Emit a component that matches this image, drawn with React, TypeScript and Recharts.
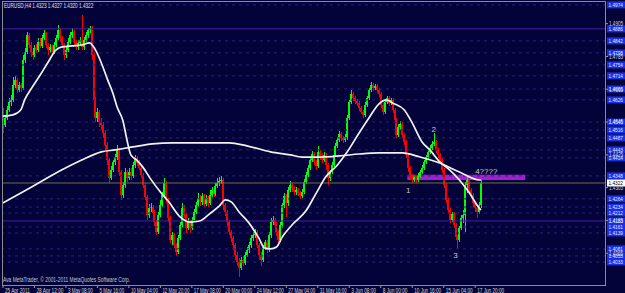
import React from "react";
import {
  ComposedChart,
  Bar,
  Line,
  XAxis,
  YAxis,
  ReferenceLine,
  ReferenceArea,
  ReferenceDot,
} from "recharts";

const symbolTitle = "EURUSD,H4  1.4323 1.4327 1.4320 1.4322";
const copyright = "Ava MetaTrader, © 2001-2011 MetaQuotes Software Corp.";

// H4 bars, prices in pips (1e-4). Open of each bar = previous close.
const firstOpen = 14582;
const closes = [
  14535, 14560, 14589, 14619, 14626, 14681, 14699, 14663, 14681, 14670,
  14772, 14802, 14864, 14827, 14802, 14791, 14816, 14809, 14838, 14824,
  14853, 14871, 14827, 14809, 14820, 14802, 14827, 14853, 14882, 14853,
  14827, 14791, 14809, 14838, 14864, 14875, 14838, 14820, 14835, 14846,
  14820, 14846, 14864, 14882, 14890, 14791, 14626, 14560, 14582, 14545,
  14535, 14505, 14461, 14406, 14341, 14370, 14399, 14417, 14443, 14362,
  14278, 14315, 14362, 14341, 14362, 14348, 14388, 14414, 14395, 14377,
  14352, 14315, 14271, 14205, 14231, 14234, 14212, 14179, 14143, 14205,
  14242, 14278, 14322, 14260, 14194, 14114, 14132, 14095, 14070, 14121,
  14169, 14231, 14205, 14158, 14179, 14158, 14187, 14216, 14242, 14267,
  14253, 14275, 14245, 14267, 14249, 14278, 14297, 14282, 14311, 14322,
  14330, 14333, 14242, 14216, 14179, 14143, 14121, 14095, 14059, 14033,
  14011, 14040, 14029, 14059, 14077, 14095, 14121, 14132, 14143, 14095,
  14059, 14040, 14088, 14106, 14077, 14132, 14179, 14187, 14169, 14143,
  14114, 14169, 14242, 14275, 14249, 14297, 14315, 14304, 14289, 14297,
  14286, 14275, 14289, 14326, 14352, 14377, 14406, 14428, 14399, 14384,
  14436, 14421, 14406, 14425, 14388, 14341, 14362, 14388, 14425, 14458,
  14480, 14502, 14487, 14480, 14491, 14560, 14619, 14648, 14633, 14622,
  14615, 14597, 14582, 14571, 14608, 14633, 14663, 14681, 14670, 14677,
  14663, 14648, 14608, 14582, 14619, 14633, 14615, 14626, 14589, 14553,
  14498, 14527, 14538, 14498, 14472, 14425, 14377, 14348, 14333, 14344,
  14333, 14348, 14362, 14377, 14399, 14417, 14436, 14450, 14465, 14472,
  14443, 14425, 14406, 14370, 14315, 14260, 14223, 14187, 14209, 14169,
  14125, 14114, 14158, 14194, 14205, 14315, 14333, 14297, 14278, 14249,
  14231, 14216, 14242, 14322,
];
const highs = [
  14597, 14571, 14604, 14633, 14644, 14710, 14714, 14707, 14692, 14688,
  14791, 14816, 14875, 14871, 14838, 14816, 14827, 14831, 14853, 14853,
  14864, 14882, 14875, 14835, 14831, 14827, 14838, 14864, 14900, 14890,
  14860, 14835, 14820, 14853, 14875, 14890, 14882, 14846, 14846, 14857,
  14937, 14857, 14875, 14890, 14897, 14897, 14802, 14637, 14597, 14589,
  14560, 14545, 14516, 14472, 14414, 14384, 14406, 14428, 14461, 14450,
  14370, 14326, 14377, 14370, 14377, 14377, 14399, 14425, 14421, 14406,
  14384, 14359, 14322, 14278, 14245, 14249, 14242, 14223, 14187, 14216,
  14260, 14289, 14341, 14330, 14267, 14201, 14143, 14139, 14103, 14132,
  14179, 14249, 14242, 14212, 14194, 14187, 14198, 14227, 14253, 14286,
  14278, 14286, 14282, 14278, 14275, 14297, 14308, 14304, 14322, 14341,
  14344, 14348, 14341, 14249, 14223, 14187, 14150, 14128, 14103, 14070,
  14048, 14051, 14055, 14070, 14088, 14106, 14132, 14143, 14154, 14150,
  14103, 14070, 14095, 14114, 14114, 14143, 14194, 14201, 14194, 14179,
  14150, 14179, 14249, 14286, 14282, 14308, 14330, 14322, 14311, 14308,
  14304, 14293, 14300, 14337, 14362, 14388, 14417, 14439, 14436, 14406,
  14458, 14443, 14432, 14436, 14432, 14395, 14370, 14399, 14436, 14469,
  14491, 14513, 14509, 14494, 14502, 14571, 14626, 14663, 14655, 14641,
  14630, 14622, 14604, 14589, 14619, 14641, 14670, 14692, 14688, 14685,
  14685, 14670, 14655, 14615, 14630, 14641, 14641, 14633, 14633, 14597,
  14560, 14538, 14549, 14545, 14505, 14480, 14432, 14384, 14355, 14352,
  14352, 14359, 14370, 14388, 14406, 14425, 14447, 14461, 14476, 14505,
  14480, 14450, 14432, 14414, 14377, 14322, 14267, 14231, 14216, 14216,
  14176, 14132, 14165, 14205, 14223, 14326, 14344, 14341, 14304, 14286,
  14256, 14238, 14253, 14333,
];
const lows = [
  14505, 14527, 14553, 14582, 14604, 14619, 14670, 14652, 14655, 14655,
  14663, 14761, 14794, 14816, 14783, 14772, 14783, 14798, 14802, 14816,
  14816, 14846, 14816, 14791, 14798, 14791, 14794, 14820, 14846, 14838,
  14816, 14772, 14780, 14802, 14831, 14853, 14827, 14809, 14809, 14824,
  14809, 14809, 14838, 14853, 14871, 14772, 14615, 14545, 14545, 14527,
  14516, 14487, 14443, 14388, 14322, 14333, 14362, 14388, 14406, 14348,
  14260, 14267, 14304, 14326, 14333, 14333, 14341, 14377, 14384, 14370,
  14341, 14304, 14260, 14187, 14194, 14216, 14198, 14165, 14132, 14136,
  14198, 14234, 14271, 14249, 14179, 14103, 14095, 14084, 14055, 14062,
  14114, 14161, 14194, 14139, 14150, 14139, 14150, 14179, 14209, 14234,
  14238, 14242, 14234, 14238, 14234, 14242, 14271, 14271, 14275, 14304,
  14311, 14319, 14223, 14201, 14165, 14132, 14106, 14077, 14040, 14018,
  13978, 14004, 14018, 14022, 14051, 14066, 14084, 14110, 14121, 14084,
  14040, 14018, 14033, 14077, 14066, 14070, 14121, 14169, 14158, 14128,
  14092, 14106, 14158, 14231, 14198, 14238, 14289, 14289, 14278, 14278,
  14275, 14264, 14267, 14282, 14319, 14344, 14370, 14399, 14388, 14370,
  14377, 14406, 14395, 14399, 14370, 14315, 14330, 14355, 14381, 14417,
  14450, 14472, 14476, 14469, 14472, 14480, 14553, 14611, 14622, 14611,
  14604, 14586, 14575, 14560, 14564, 14600, 14626, 14655, 14659, 14663,
  14652, 14637, 14597, 14571, 14575, 14611, 14604, 14608, 14578, 14542,
  14487, 14491, 14516, 14487, 14461, 14414, 14362, 14333, 14322, 14326,
  14322, 14326, 14341, 14355, 14370, 14392, 14410, 14428, 14443, 14458,
  14432, 14414, 14395, 14359, 14304, 14249, 14212, 14176, 14179, 14158,
  14114, 14084, 14106, 14150, 14176, 14143, 14286, 14286, 14267, 14234,
  14216, 14194, 14209, 14231,
];

// moving averages at some bars
const fastBars = [
  0, 5, 9, 11, 15, 19, 23, 27, 30, 35, 40, 44, 47, 50, 53, 56, 58, 61, 63, 65,
  68, 71, 75, 80, 84, 90, 95, 100, 105, 110, 113, 116, 120, 125, 130, 133, 136,
  139, 142, 147, 154, 159, 164, 170, 175, 181, 186, 191, 195, 198, 204, 208,
  213, 217, 222, 227, 232, 237, 242, 243,
];
const fastVals = [
  14567, 14571, 14589, 14626, 14674, 14718, 14765, 14809, 14820, 14824,
  14827, 14835, 14809, 14761, 14703, 14648, 14600, 14549, 14480, 14425,
  14406, 14381, 14337, 14289, 14256, 14198, 14179, 14183, 14209, 14238,
  14260, 14253, 14216, 14176, 14121, 14084, 14081, 14088, 14125, 14169,
  14220, 14282, 14344, 14388, 14436, 14505, 14560, 14611, 14626, 14615,
  14589, 14542, 14472, 14443, 14399, 14370, 14333, 14286, 14231, 14223,
];
const slowBars = [
  0, 10, 20, 30, 40, 50, 57, 66, 76, 86, 100, 115, 124, 136, 146, 152, 161,
  171, 181, 191, 203, 212, 222, 232, 242, 243,
];
const slowVals = [
  14249, 14289, 14330, 14370, 14406, 14436, 14443, 14454, 14465, 14469,
  14469, 14469, 14458, 14436, 14425, 14417, 14417, 14421, 14428, 14432,
  14432, 14417, 14395, 14362, 14333, 14333,
];

const timeLabels = [
  "25 Apr 2011", "28 Apr 12:00", "3 May 08:00", "5 May 16:00", "10 May 04:00",
  "12 May 20:00", "17 May 08:00", "20 May 00:00", "24 May 12:00", "27 May 04:00",
  "31 May 16:00", "3 Jun 08:00", "8 Jun 00:00", "10 Jun 16:00", "15 Jun 04:00",
  "17 Jun 20:00",
];
const BARS_PER_LABEL = 16;
const priceTicks = [1.3945, 1.4065, 1.4185, 1.4305, 1.4425, 1.4545, 1.4665, 1.4785, 1.4905];

// horizontal levels with their tags on the price scale
const levels = [
  14974, 14886, 14842, 14798, 14754, 14714, 14666, 14626, 14545, 14516, 14487,
  14443, 14414, 14348, 14264, 14234, 14212, 14183, 14161, 14139, 14081, 14055,
  14033,
];
const solidLevels = [14886, 14183];
const bid = 14322;
const zone = { fromBar: 206, toBar: 265, top: 14352, bottom: 14333 };
const marks = [
  { bar: 206, price: 14297, text: "1", anchor: "middle" },
  { bar: 219, price: 14520, text: "2", anchor: "middle" },
  { bar: 230, price: 14059, text: "3", anchor: "middle" },
  { bar: 240, price: 14366, text: "4????", anchor: "start" },
];

const TOTAL_SLOTS = 307;
const BG = "#03033a";
const FONT = "'Liberation Sans', Arial, sans-serif";
const TXT = "#d4d4d4";

const fastMap = new Map(fastBars.map((b, k) => [b, fastVals[k] / 1e4]));
const slowMap = new Map(slowBars.map((b, k) => [b, slowVals[k] / 1e4]));

const rows = Array.from({ length: TOTAL_SLOTS }, (_, i) => {
  if (i >= closes.length) return { i };
  const open = (i === 0 ? firstOpen : closes[i - 1]) / 1e4;
  const close = closes[i] / 1e4;
  return {
    i,
    open,
    close,
    high: Math.max(highs[i] / 1e4, open, close),
    low: Math.min(lows[i] / 1e4, open, close),
    fast: fastMap.get(i),
    slow: slowMap.get(i),
  };
});

function Candle(props: any) {
  const { x, y, width, height, payload } = props;
  if (!payload || payload.open == null) return null;
  const { open, close, high, low } = payload;
  const top = Math.min(y, y + height);
  const bot = Math.max(y, y + height);
  const k = high > low ? (bot - top) / (high - low) : 0;
  const yO = top + (high - open) * k;
  const yC = top + (high - close) * k;
  const color = close >= open ? "#00ff00" : "#ff0000";
  const left = Math.round(x);
  const w = Math.max(1, Math.round(width));
  const cx = left + Math.floor(w / 2);
  return (
    <g shapeRendering="crispEdges">
      <line x1={cx + 0.5} x2={cx + 0.5} y1={top} y2={bot} stroke={color} strokeWidth={1} />
      <rect x={left} y={Math.min(yO, yC)} width={w} height={Math.max(1, Math.abs(yC - yO))} fill={color} />
    </g>
  );
}

// squeezed tiny text, like the terminal's small bitmap font
function Tiny({ x, y, text, fill, size = 6.5, perChar = 2.3, anchor = "start" }: any) {
  return (
    <text
      x={x}
      y={y}
      fontSize={size}
      fill={fill}
      fontFamily={FONT}
      textAnchor={anchor}
      textLength={text.length * perChar}
      lengthAdjust="spacingAndGlyphs"
    >
      {text}
    </text>
  );
}

function Tag({ viewBox, value, bg, fg }: any) {
  if (!viewBox) return null;
  const x = viewBox.x + viewBox.width + 1;
  const y = viewBox.y;
  return (
    <g>
      <rect x={x} y={y - 3.5} width={18} height={7} fill={bg} />
      <Tiny x={x + 1.5} y={y + 2.2} text={value.toFixed(4)} fill={fg} size={5.5} perChar={2.4} />
    </g>
  );
}

const PriceTick = (p: any) => (
  <Tiny x={p.x} y={p.y + 2.4} text={Number(p.payload.value).toFixed(4)} fill={TXT} size={6.5} perChar={2.35} />
);

const TimeTick = (p: any) => {
  const label = timeLabels[Math.round(p.payload.value / BARS_PER_LABEL)];
  return <Tiny x={p.x + 2} y={p.y + 4.6} text={label} fill={TXT} size={6.5} perChar={2.25} />;
};

export default function App() {
  const timeTicks = timeLabels.map((_, k) => k * BARS_PER_LABEL);
  return (
    <div style={{ position: "relative", width: 625, height: 293, background: BG, overflow: "hidden" }}>
      <style>{"body{margin:0}"}</style>
      <ComposedChart
        width={625}
        height={293}
        data={rows}
        margin={{ top: 1, right: 0, bottom: 0, left: 2 }}
        barCategoryGap={0}
        barGap={0}
      >
        <XAxis
          dataKey="i"
          type="category"
          ticks={timeTicks}
          interval={0}
          height={7}
          tickSize={2}
          tickMargin={0}
          axisLine={false}
          tickLine={{ stroke: "#9a9a9a" }}
          tick={<TimeTick />}
        />
        <YAxis
          orientation="right"
          type="number"
          domain={[1.3945, 1.4988]}
          allowDataOverflow
          ticks={priceTicks}
          width={19}
          tickSize={2}
          tickMargin={1}
          axisLine={false}
          tickLine={{ stroke: "#9a9a9a" }}
          tick={<PriceTick />}
        />
        {levels.map((v) => {
          const solid = solidLevels.includes(v);
          return (
            <ReferenceLine
              key={v}
              y={v / 1e4}
              stroke={solid ? "#4a1ea6" : "#2a2180"}
              strokeDasharray={solid ? undefined : "3 4"}
              strokeWidth={1}
              label={(lp: any) => <Tag viewBox={lp.viewBox} value={v / 1e4} bg="#1630e8" fg="#e8e8ff" />}
            />
          );
        })}
        <ReferenceLine
          y={bid / 1e4}
          stroke="#72703f"
          strokeWidth={1}
          label={(lp: any) => <Tag viewBox={lp.viewBox} value={bid / 1e4} bg="#ffffff" fg="#000000" />}
        />
        <ReferenceArea
          x1={zone.fromBar}
          x2={zone.toBar}
          y1={zone.bottom / 1e4}
          y2={zone.top / 1e4}
          fill="#a020d0"
          fillOpacity={1}
          stroke="none"
        />
        <Bar
          dataKey={(d: any) => (d.low != null ? [d.low, d.high] : null)}
          isAnimationActive={false}
          shape={(p: any) => <Candle {...p} />}
        />
        <Line
          dataKey="slow"
          type="monotone"
          stroke="#f2f2f2"
          strokeWidth={1.7}
          dot={false}
          connectNulls
          isAnimationActive={false}
        />
        <Line
          dataKey="fast"
          type="monotone"
          stroke="#f2f2f2"
          strokeWidth={1.7}
          dot={false}
          connectNulls
          isAnimationActive={false}
        />
        {marks.map((m) => (
          <ReferenceDot
            key={m.text}
            x={m.bar}
            y={m.price / 1e4}
            r={0}
            shape={(p: any) => (
              <text x={p.cx} y={p.cy + 3} fontSize={8} fill="#c8c8c8" fontFamily={FONT} textAnchor={m.anchor as any}>
                {m.text}
              </text>
            )}
          />
        ))}
      </ComposedChart>
      <div
        style={{
          position: "absolute",
          left: 2,
          top: 1,
          width: 604,
          height: 285,
          boxSizing: "border-box",
          border: "1px solid #8c8c8c",
          pointerEvents: "none",
        }}
      />
      <svg width={625} height={293} style={{ position: "absolute", left: 0, top: 0, pointerEvents: "none" }}>
        <Tiny x={4} y={8} text={symbolTitle} fill="#e0e0e0" size={6.5} perChar={2.35} />
        <Tiny x={3} y={282} text={copyright} fill="#c8c8c8" size={6.5} perChar={2.4} />
      </svg>
    </div>
  );
}
